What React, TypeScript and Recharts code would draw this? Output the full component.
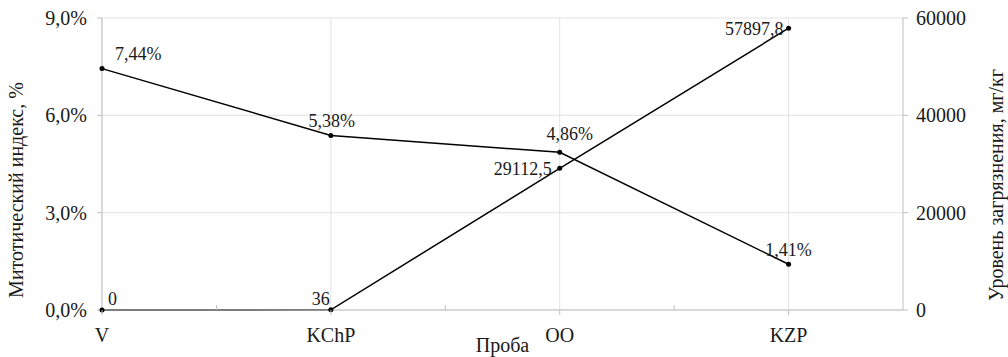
import {
  LineChart,
  Line,
  CartesianGrid,
  XAxis,
  YAxis,
  LabelList,
} from "recharts";

const categories = ["V", "KChP", "OO", "KZP"];
const mitoticIndex = [7.44, 5.38, 4.86, 1.41];
const pollutionLevel = [0, 36, 29112.5, 57897.8];
const leftTicks = [0, 3, 6, 9];
const rightTicks = [0, 20000, 40000, 60000];

const data = categories.map((name, i) => ({
  pos: i,
  name,
  mitotic: mitoticIndex[i],
  pollution: pollutionLevel[i],
}));

const font = '"Liberation Serif", "Times New Roman", serif';
const axisColor = "#bfbfbf";
const gridColor = "#e2e2e2";
const textColor = "#1a1a1a";

// where each value label sits relative to its point
const mitoticPlacement = [
  { dx: 13, dy: -15, anchor: "start" },
  { dx: 1, dy: -14, anchor: "middle" },
  { dx: 10, dy: -18, anchor: "middle" },
  { dx: 0, dy: -14, anchor: "middle" },
];
const pollutionPlacement = [
  { dx: 6, dy: -11, anchor: "start" },
  { dx: -1, dy: -11, anchor: "end" },
  { dx: -8, dy: 1, anchor: "end" },
  { dx: -5, dy: 1, anchor: "end" },
];

const comma = (s: string) => s.replace(".", ",");

const makeLabel =
  (placement: any[], values: number[], fmt: (v: number) => string) =>
  (props: any) => {
    const { x, y, value } = props;
    const index = props.index ?? values.indexOf(value);
    const p = placement[index];
    if (!p) return null;
    return (
      <text
        x={x + p.dx}
        y={y + p.dy}
        textAnchor={p.anchor}
        dominantBaseline="central"
        fontFamily={font}
        fontSize={18}
        fill={textColor}
      >
        {fmt(value)}
      </text>
    );
  };

const XTick = (props: any) => {
  const { x, y, payload } = props;
  const v = payload.value;
  if (Number.isInteger(v)) {
    return (
      <g>
        <line x1={x} x2={x} y1={y} y2={y + 5} stroke={axisColor} />
        <text
          x={x}
          y={y + 32}
          textAnchor="middle"
          fontFamily={font}
          fontSize={20}
          fill={textColor}
        >
          {categories[v]}
        </text>
      </g>
    );
  }
  return <line x1={x} x2={x} y1={y - 5} y2={y} stroke={axisColor} />;
};

const verticalTitle = (text: string, dx: number, dy: number) => (props: any) => {
  const vb = props.viewBox;
  const cx = vb.x + dx;
  const cy = vb.y + vb.height / 2 + dy;
  return (
    <text
      x={cx}
      y={cy}
      transform={`rotate(-90, ${cx}, ${cy})`}
      textAnchor="middle"
      fontFamily={font}
      fontSize={20}
      fill={textColor}
    >
      {text}
    </text>
  );
};

export default function App() {
  return (
    <div style={{ position: "absolute", left: 0, top: 0, background: "#fff" }}>
      <LineChart
        width={1008}
        height={357}
        data={data}
        margin={{ top: 18, right: 0, bottom: 0, left: 0 }}
      >
        <CartesianGrid
          yAxisId="left"
          stroke={gridColor}
          verticalValues={[0, 1, 2, 3]}
        />

        <XAxis
          dataKey="pos"
          type="number"
          domain={[0, 3.5]}
          ticks={[0, 0.5, 1, 1.5, 2, 2.5, 3]}
          interval={0}
          height={47}
          stroke={axisColor}
          tickLine={false}
          tickSize={0}
          tickMargin={0}
          tick={<XTick />}
          label={{
            content: (props: any) => {
              const vb = props.viewBox;
              return (
                <text
                  x={vb.x + vb.width / 2}
                  y={vb.y + 42}
                  textAnchor="middle"
                  fontFamily={font}
                  fontSize={20}
                  fill={textColor}
                >
                  Проба
                </text>
              );
            },
          }}
        />

        <YAxis
          yAxisId="left"
          domain={[0, 9]}
          ticks={leftTicks}
          interval={0}
          width={102}
          stroke={axisColor}
          tickSize={5}
          tickMargin={10}
          tick={{ fill: textColor, fontFamily: font, fontSize: 20 }}
          tickFormatter={(v: number) => comma(v.toFixed(1)) + "%"}
          label={{ content: verticalTitle("Митотический индекс, %", 23, 26) }}
        />

        <YAxis
          yAxisId="right"
          orientation="right"
          domain={[0, 60000]}
          ticks={rightTicks}
          interval={0}
          width={105}
          stroke={axisColor}
          tickSize={5}
          tickMargin={8}
          tick={{ fill: textColor, fontFamily: font, fontSize: 20 }}
          label={{ content: verticalTitle("Уровень загрязнения, мг/кг", 100, 21) }}
        />

        <Line
          yAxisId="left"
          dataKey="mitotic"
          type="linear"
          stroke="#000"
          strokeWidth={1.5}
          dot={{ r: 2.5, fill: "#000", stroke: "#000", strokeWidth: 0 }}
          activeDot={false}
          isAnimationActive={false}
        >
          <LabelList
            dataKey="mitotic"
            content={makeLabel(mitoticPlacement, mitoticIndex, (v) =>
              comma(v.toFixed(2)) + "%"
            )}
          />
        </Line>

        <Line
          yAxisId="right"
          dataKey="pollution"
          type="linear"
          stroke="#000"
          strokeWidth={1.5}
          dot={{ r: 2.5, fill: "#000", stroke: "#000", strokeWidth: 0 }}
          activeDot={false}
          isAnimationActive={false}
        >
          <LabelList
            dataKey="pollution"
            content={makeLabel(pollutionPlacement, pollutionLevel, (v) =>
              comma(String(v))
            )}
          />
        </Line>
      </LineChart>
    </div>
  );
}
